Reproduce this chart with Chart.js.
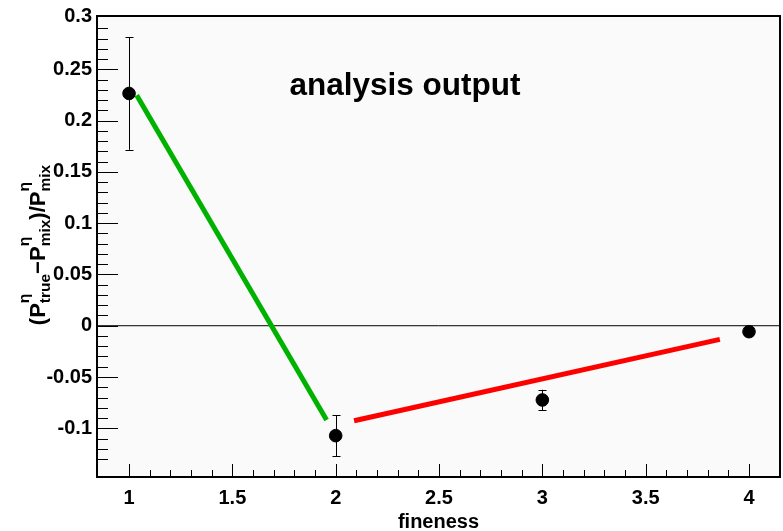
<!DOCTYPE html>
<html>
<head>
<meta charset="utf-8">
<script src="https://cdn.jsdelivr.net/npm/chart.js@4.4.1/dist/chart.umd.min.js"></script>
<style>
  html, body { margin: 0; padding: 0; background: #fff; }
  #wrap { width: 783px; height: 531px; }
</style>
</head>
<body>
<div id="wrap"><canvas id="myChart" width="783" height="531"></canvas></div>
<script>
'use strict';

// values
const fineness = [1, 2, 3, 4];
const ratio = [0.2265, -0.1072, -0.0724, -0.0058];
const ratioErr = [0.055, 0.020, 0.010, 0.0];

// the two fitted segments (green, red)
const greenX = [1.037, 1.956];
const greenY = [0.2248, -0.0919];
const redX = [2.089, 3.859];
const redY = [-0.0926, -0.0133];

// tick labels
const xTickLabels = ['1', '1.5', '2', '2.5', '3', '3.5', '4'];
const yTickLabels = ['-0.1', '-0.05', '0', '0.05', '0.1', '0.15', '0.2', '0.25', '0.3'];

const FONT = "'Liberation Sans', Arial, Helvetica, sans-serif";

// label for a tick value, '' for minor ticks
function pick(labels, v, tol) {
    const l = labels.find(t => Math.abs(Number(t) - v) < (tol || 1e-6));
    return l === undefined ? '' : l;
}

// is v on the minor grid (1/n steps)
function onGrid(v, n) {
    return Math.abs(v * n - Math.round(v * n)) < 1e-6;
}

function toPoints(xs, ys) {
    return xs.map((x, i) => ({ x: x, y: ys[i] }));
}

// draws "main^sup_sub" pieces one after the other, centred on 0
function drawRich(ctx, parts, big, small) {
    const bigFont = 'bold ' + big + 'px ' + FONT;
    const smallFont = 'bold ' + small + 'px ' + FONT;
    let total = 0;
    parts.forEach(p => {
        ctx.font = bigFont;
        total += ctx.measureText(p[0]).width;
        ctx.font = smallFont;
        total += Math.max(ctx.measureText(p[1]).width, ctx.measureText(p[2]).width);
    });
    let x = -total / 2;
    ctx.textAlign = 'left';
    ctx.textBaseline = 'alphabetic';
    parts.forEach(p => {
        ctx.font = bigFont;
        ctx.fillText(p[0], x, 0);
        x += ctx.measureText(p[0]).width;
        ctx.font = smallFont;
        ctx.fillText(p[1], x, -big * 0.72);
        ctx.fillText(p[2], x, big * 0.24);
        x += Math.max(ctx.measureText(p[1]).width, ctx.measureText(p[2]).width);
    });
}

const rootFrame = {
    id: 'rootFrame',
    beforeDraw(chart) {
        const { ctx, chartArea: a } = chart;
        ctx.save();
        ctx.fillStyle = '#ffffff';
        ctx.fillRect(0, 0, chart.width, chart.height);
        ctx.fillStyle = '#fafafa';
        ctx.fillRect(a.left, a.top, a.right - a.left, a.bottom - a.top);
        ctx.restore();
    },
    beforeDatasetsDraw(chart) {
        const { ctx, chartArea: a, scales } = chart;
        const xs = scales.x, ys = scales.y;
        ctx.save();
        ctx.strokeStyle = '#000';
        ctx.lineWidth = 1;
        ctx.beginPath();
        // ticks pointing into the frame
        xs.ticks.forEach(t => {
            if (!onGrid(t.value, 10)) return;
            const px = Math.round(xs.getPixelForValue(t.value)) + 0.5;
            const len = pick(xTickLabels, t.value) ? 13 : 7;
            ctx.moveTo(px, a.bottom);
            ctx.lineTo(px, a.bottom - len);
        });
        ys.ticks.forEach(t => {
            if (!onGrid(t.value, 100)) return;
            const py = Math.round(ys.getPixelForValue(t.value)) + 0.5;
            const len = pick(yTickLabels, t.value) ? 21 : 11;
            ctx.moveTo(a.left, py);
            ctx.lineTo(a.left + len, py);
        });
        // error bars
        fineness.forEach((f, i) => {
            if (!ratioErr[i]) return;
            const px = Math.round(xs.getPixelForValue(f)) + 0.5;
            const top = ys.getPixelForValue(ratio[i] + ratioErr[i]);
            const bot = ys.getPixelForValue(ratio[i] - ratioErr[i]);
            ctx.moveTo(px, top);
            ctx.lineTo(px, bot);
            ctx.moveTo(px - 4, Math.round(top) + 0.5);
            ctx.lineTo(px + 4, Math.round(top) + 0.5);
            ctx.moveTo(px - 4, Math.round(bot) + 0.5);
            ctx.lineTo(px + 4, Math.round(bot) + 0.5);
        });
        ctx.stroke();
        ctx.restore();
    },
    afterDraw(chart) {
        const { ctx, chartArea: a } = chart;
        ctx.save();
        // frame
        ctx.strokeStyle = '#000';
        ctx.lineWidth = 2;
        ctx.strokeRect(a.left, a.top, a.right - a.left, a.bottom - a.top);

        // text inside the pad
        ctx.fillStyle = '#000';
        ctx.font = 'bold 31.5px ' + FONT;
        ctx.textAlign = 'center';
        ctx.textBaseline = 'alphabetic';
        ctx.fillText('analysis output', 405, 95);

        // x title
        ctx.font = 'bold 20px ' + FONT;
        ctx.fillText('fineness', (a.left + a.right) / 2, 528);

        // y title
        ctx.translate(45, 245);
        ctx.rotate(-Math.PI / 2);
        drawRich(ctx, [['(P', 'η', 'true'], ['−P', 'η', 'mix'], [')/P', 'η', 'mix']], 22, 15.5);
        ctx.restore();
    }
};

new Chart(document.getElementById('myChart'), {
    type: 'scatter',
    data: {
        datasets: [
            {
                label: 'output',
                data: toPoints(fineness, ratio),
                backgroundColor: '#000',
                borderColor: '#000',
                pointRadius: 6.3,
                pointHoverRadius: 6.3,
                showLine: false
            },
            {
                label: 'fit 1',
                data: toPoints(greenX, greenY),
                borderColor: 'rgb(0, 178, 0)',
                borderWidth: 5,
                pointRadius: 0,
                showLine: true
            },
            {
                label: 'fit 2',
                data: toPoints(redX, redY),
                borderColor: 'rgb(255, 0, 0)',
                borderWidth: 5,
                pointRadius: 0,
                showLine: true
            },
            {
                label: 'zero',
                data: [{ x: 0.845, y: 0 }, { x: 4.15, y: 0 }],
                borderColor: '#000',
                borderWidth: 1,
                pointRadius: 0,
                showLine: true
            }
        ]
    },
    options: {
        responsive: false,
        animation: false,
        devicePixelRatio: 1,
        layout: { autoPadding: false, padding: { top: 16, right: 3, left: 0, bottom: 0 } },
        plugins: {
            legend: { display: false },
            tooltip: { enabled: false },
            title: { display: false }
        },
        scales: {
            x: {
                type: 'linear',
                min: 0.845,
                max: 4.15,
                grid: { display: false, drawTicks: false },
                border: { display: false },
                ticks: {
                    stepSize: 0.1,
                    autoSkip: false,
                    maxRotation: 0,
                    padding: 9,
                    color: '#000',
                    font: { family: FONT, size: 20, weight: 'bold' },
                    callback: v => pick(xTickLabels, v)
                },
                afterFit: s => { s.height = 54; s.paddingLeft = 0; s.paddingRight = 0; }
            },
            y: {
                type: 'linear',
                min: -0.1475,
                max: 0.302,
                grid: { display: false, drawTicks: false },
                border: { display: false },
                ticks: {
                    stepSize: 0.01,
                    autoSkip: false,
                    padding: 5,
                    color: '#000',
                    font: { family: FONT, size: 20, weight: 'bold' },
                    callback: v => pick(yTickLabels, v, 0.0025)
                },
                afterFit: s => { s.width = 97; s.paddingTop = 0; s.paddingBottom = 0; }
            }
        }
    },
    plugins: [rootFrame]
});
</script>
</body>
</html>
